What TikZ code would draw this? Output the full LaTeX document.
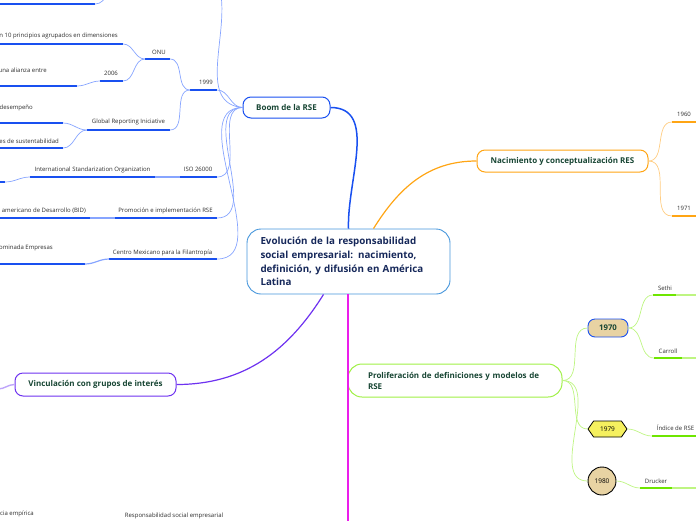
\documentclass[tikz,border=0pt]{standalone}
\usepackage{fontspec}
\setmainfont{Open Sans}
\usetikzlibrary{shapes.symbols}
\definecolor{titlegreen}{RGB}{24,70,52}
\definecolor{centralnavy}{RGB}{22,40,90}
\definecolor{centralblue}{RGB}{70,150,220}
\definecolor{boomblue}{RGB}{25,80,240}
\definecolor{boomlight}{RGB}{135,165,255}
\definecolor{nacorange}{RGB}{255,165,20}
\definecolor{naclight}{RGB}{255,205,130}
\definecolor{prolgreen}{RGB}{160,240,70}
\definecolor{prolline}{RGB}{110,230,0}
\definecolor{prollight}{RGB}{190,245,130}
\definecolor{vincpurple}{RGB}{110,50,240}
\definecolor{vinclight}{RGB}{190,165,250}
\definecolor{magentaline}{RGB}{235,30,235}
\definecolor{yeartan}{RGB}{232,211,163}
\definecolor{yearyellow}{RGB}{245,240,95}
\definecolor{labelgray}{RGB}{45,45,45}

\tikzset{
  topic/.style={draw, line width=1pt, rounded corners=8pt, fill=white, text=titlegreen,
    font=\fontsize{8}{9.5}\selectfont\bfseries, minimum height=21pt, inner xsep=0pt},
  lbl/.style={font=\fontsize{6}{7}\selectfont, text=labelgray, inner sep=0pt},
  uline/.style={line width=1.4pt},
  thinline/.style={line width=0.7pt},
}

\begin{document}
\begin{tikzpicture}[x=1pt,y=-1pt]
\useasboundingbox (0,0) rectangle (696,520);

% main topics
\node[draw=centralblue, line width=0.9pt, rounded corners=14pt, fill=white, text=centralnavy,
    font=\fontsize{9.8}{13.8}\selectfont\bfseries, text width=176pt, inner xsep=13.5pt,
    minimum height=65pt, align=left] (central) at (348.5,261.5)
    {Evolución de la responsabilidad\\ social empresarial: nacimiento,\\ definición, y difusión en América\\ Latina};
\node[topic, draw=boomblue, minimum width=87pt] (boom) at (286.5,107.5) {Boom de la RSE};
\node[topic, draw=nacorange, minimum width=171pt, minimum height=22pt] (nacimiento) at (562.5,161) {Nacimiento y conceptualización RES};
\node[topic, draw=vincpurple, minimum width=161pt, minimum height=23pt] (vinculo) at (95.5,384.5) {Vinculación con grupos de interés};
\node[topic, draw=prolgreen, rounded corners=14pt, minimum width=214pt, minimum height=33pt,
    text width=174pt, inner xsep=20pt, align=left, font=\fontsize{8}{11}\selectfont\bfseries] (prolif) at (455,380.5)
    {Proliferación de definiciones y modelos de\\ RSE};

% branches of the central topic
\draw[boomblue, line width=1.5pt] (boom.east) to[out=0,in=92] (central.north);
\draw[nacorange, line width=1.2pt] ([xshift=25pt]central.north) to[out=58,in=180] (nacimiento.west);
\draw[vincpurple, line width=1.2pt] ([xshift=-25pt]central.south) to[out=238,in=0] (vinculo.east);
\coordinate (magend) at (348,525);
\draw[magentaline, line width=1.5pt] ([xshift=-0.5pt]central.south) -- (magend);
\coordinate (vincout) at (-2,389);
\draw[vinclight, line width=1.4pt] (vinculo.west) to[out=180,in=0] (vincout);

% Boom de la RSE, upper part
\coordinate (boomup) at (221,-5);
\draw[boomlight, thinline] (boom.west) to[out=175,in=-82] (boomup);
\coordinate (topa) at (0,4);
\coordinate (topb) at (95,4);
\coordinate (topc) at (108,-6);
\draw[boomblue, uline] (topa) -- (topb);
\draw[boomlight, thinline] (topb) to[out=0,in=235] (topc);

\node[lbl] (y1999) at (206,82) {1999};
\coordinate (y1999a) at (190,90);
\coordinate (y1999b) at (217,90);
\draw[boomblue, uline] (y1999a) -- (y1999b);
\draw[boomlight, thinline] (y1999b) to[out=0,in=180] (boom.west);

\node[lbl] (onu) at (159,52) {ONU};
\coordinate (onua) at (145,59);
\coordinate (onub) at (170,59);
\draw[boomblue, uline] (onua) -- (onub);
\draw[boomlight, thinline] (onub) to[out=0,in=180] (y1999a);

\node[lbl, anchor=east] (principios) at (118,36) {n 10 principios agrupados en dimensiones};
\coordinate (prina) at (0,44);
\coordinate (prinb) at (123,44);
\draw[boomblue, uline] (prina) -- (prinb);
\draw[boomlight, thinline] (prinb) to[out=0,in=180] (onua);

\node[lbl] (y2006) at (111,73) {2006};
\coordinate (y2006a) at (100,81);
\coordinate (y2006b) at (123,81);
\draw[boomblue, uline] (y2006a) -- (y2006b);
\draw[boomlight, thinline] (y2006b) to[out=0,in=180] (onua);

\node[lbl, anchor=east] (alianza) at (47,70) {una alianza entre};
\coordinate (alia) at (0,86);
\coordinate (alib) at (77,86);
\draw[boomblue, uline] (alia) -- (alib);
\draw[boomlight, thinline] (alib) to[out=0,in=180] (y2006a);

\node[lbl] (gri) at (128.5,122) {Global Reporting Iniciative};
\coordinate (gria) at (87,130);
\coordinate (grib) at (170,130);
\draw[boomblue, uline] (gria) -- (grib);
\draw[boomlight, thinline] (grib) to[out=0,in=180] (y1999a);

\node[lbl, anchor=east] (desempeno) at (33,108) {desempeño};
\coordinate (desa) at (0,123);
\coordinate (desb) at (63,123);
\draw[boomblue, uline] (desa) -- (desb);
\draw[boomlight, thinline] (desb) to[out=0,in=180] (gria);

\node[lbl, anchor=east] (sustent) at (59,141) {es de sustentabilidad};
\coordinate (susa) at (0,148);
\coordinate (susb) at (63,148);
\draw[boomblue, uline] (susa) -- (susb);
\draw[boomlight, thinline] (susb) to[out=0,in=180] (gria);

% Boom de la RSE, lower part
\node[lbl] (iso) at (198,169.5) {ISO 26000};
\coordinate (isoa) at (180,177);
\coordinate (isob) at (217,177);
\draw[boomblue, uline] (isoa) -- (isob);
\draw[boomlight, thinline] (isob) to[out=0,in=180] (boom.west);

\node[lbl] (isoorg) at (92.5,169.5) {International Standarization Organization};
\coordinate (orga) at (30,177);
\coordinate (orgb) at (155,177);
\draw[boomblue, uline] (orga) -- (orgb);
\draw[boomlight, line width=1.2pt] (orgb) -- (isoa);
\coordinate (orgleafa) at (0,182);
\coordinate (orgleafb) at (5,182);
\draw[boomblue, uline] (orgleafa) -- (orgleafb);
\draw[boomlight, thinline] (orgleafb) to[out=0,in=180] (orga);

\node[lbl] (promo) at (165.5,211) {Promoción e implementación RSE};
\coordinate (promoa) at (115,218);
\coordinate (promob) at (217,218);
\draw[boomblue, uline] (promoa) -- (promob);
\draw[boomlight, thinline] (promob) to[out=0,in=180] (boom.west);
\node[lbl, anchor=east] (bid) at (86,211) {americano de Desarrollo (BID)};
\coordinate (bida) at (0,218);
\coordinate (bidb) at (90,218);
\draw[boomblue, uline] (bida) -- (bidb);
\draw[boomlight, line width=1.2pt] (bidb) -- (promoa);

\node[lbl] (cemefi) at (162.5,252.5) {Centro Mexicano para la Filantropía};
\coordinate (cemefia) at (109,259);
\coordinate (cemefib) at (217,259);
\draw[boomblue, uline] (cemefia) -- (cemefib);
\draw[boomlight, thinline] (cemefib) to[out=0,in=180] (boom.west);
\node[lbl, anchor=east] (empresas) at (53,248) {ominada Empresas};
\coordinate (empa) at (0,264);
\coordinate (empb) at (85,264);
\draw[boomblue, uline] (empa) -- (empb);
\draw[boomlight, line width=1.2pt] (empb) to[out=0,in=180] (cemefia);

% Nacimiento y conceptualizacion
\node[lbl] (y1960) at (684,114) {1960};
\coordinate (y1960a) at (672,122);
\coordinate (y1960b) at (697,122);
\draw[nacorange, uline] (y1960a) -- (y1960b);
\draw[naclight, thinline] (nacimiento.east) to[out=0,in=180] (y1960a);
\node[lbl] (y1971) at (684,208) {1971};
\coordinate (y1971a) at (672,216);
\coordinate (y1971b) at (697,216);
\draw[nacorange, uline] (y1971a) -- (y1971b);
\draw[naclight, thinline] (nacimiento.east) to[out=0,in=180] (y1971a);

% Proliferacion de definiciones
\node[draw=boomblue, line width=0.9pt, fill=yeartan, rounded corners=7pt, minimum width=40pt, minimum height=18pt,
    inner sep=0pt, text=titlegreen, font=\fontsize{7.8}{9}\selectfont\bfseries] (y1970) at (608,328) {1970};
\node[signal, signal to=west and east, signal pointer angle=110, draw=black, line width=0.8pt, fill=yearyellow,
    minimum width=39pt, minimum height=16pt, inner sep=0pt, font=\fontsize{6.5}{8}\selectfont] (y1979) at (607.5,429) {1979};
\node[circle, draw=black, line width=0.9pt, fill=yeartan, minimum size=28pt, inner sep=0pt,
    font=\fontsize{6.5}{8}\selectfont] (y1980) at (602,481) {1980};
\draw[prollight, thinline] (prolif.east) to[out=0,in=180] (y1970.west);
\draw[prollight, thinline] (prolif.east) to[out=0,in=180] (y1979.west);
\draw[prollight, thinline] (prolif.east) to[out=0,in=180] (y1980.west);

\node[lbl] (sethi) at (665,288) {Sethi};
\coordinate (sethia) at (653,295);
\coordinate (sethib) at (676,295);
\coordinate (sethic) at (697,295);
\draw[prolline, uline] (sethia) -- (sethib);
\draw[prollight, line width=1.2pt] (sethib) -- (sethic);
\draw[prollight, thinline] (y1970.east) to[out=0,in=180] (sethia);

\node[lbl] (carroll) at (668,351) {Carroll};
\coordinate (carrolla) at (654,358);
\coordinate (carrollb) at (682,358);
\coordinate (carrollc) at (697,358);
\draw[prolline, uline] (carrolla) -- (carrollb);
\draw[prollight, line width=1.2pt] (carrollb) -- (carrollc);
\draw[prollight, thinline] (y1970.east) to[out=0,in=180] (carrolla);

\node[lbl] (indice) at (675.5,428) {Índice de RSE};
\coordinate (indicea) at (652,436);
\coordinate (indiceb) at (697,436);
\draw[prolline, uline] (indicea) -- (indiceb);
\draw[prollight, thinline] (y1979.east) to[out=0,in=180] (indicea);

\node[lbl] (drucker) at (656,481) {Drucker};
\coordinate (druckera) at (640,488);
\coordinate (druckerb) at (672,488);
\coordinate (druckerc) at (697,488);
\draw[prolline, uline] (druckera) -- (druckerb);
\draw[prollight, line width=1.2pt] (druckerb) -- (druckerc);
\draw[prollight, thinline] (y1980.east) to[out=0,in=180] (druckera);

% bottom edge
\node[lbl, anchor=east] (empirica) at (34,514) {cia empírica};
\node[lbl] (rsebottom) at (174,516) {Responsabilidad social empresarial};

\end{tikzpicture}
\end{document}
